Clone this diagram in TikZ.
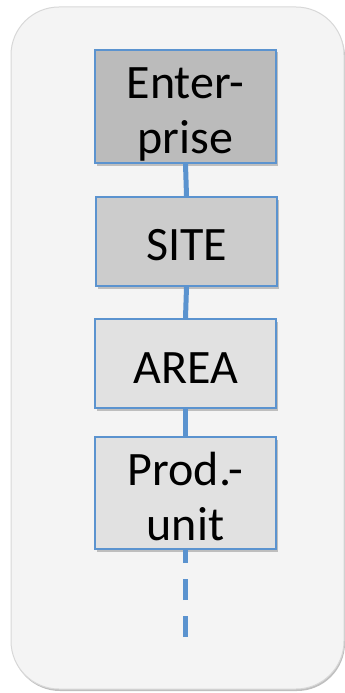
\documentclass[tikz,border=0pt]{standalone}
\usepackage{fontspec}
\setmainfont{Carlito}
\usetikzlibrary{shadows}
\definecolor{panelbg}{HTML}{F4F4F4}
\definecolor{panelrim}{HTML}{D8D8D8}
\definecolor{linkblue}{HTML}{5B93CF}
\definecolor{lvlA}{HTML}{BBBBBB}
\definecolor{lvlB}{HTML}{CCCCCC}
\definecolor{lvlC}{HTML}{E1E1E1}
\tikzset{
  level/.style={draw=linkblue, line width=2pt, minimum width=181pt,
    inner sep=0pt,
    drop shadow={shadow xshift=1.5pt, shadow yshift=-2.5pt, opacity=0.22, fill=black}},
  caption/.style={align=center, inner sep=0pt,
    font=\fontsize{48}{55}\selectfont},
  link/.style={draw=linkblue, line width=5pt},
}
\begin{document}
\begin{tikzpicture}[x=1pt,y=-1pt]
  \useasboundingbox (0,0) rectangle (345,693);
  % panel
  \draw[draw=panelrim, line width=1pt, fill=panelbg, rounded corners=48pt,
        drop shadow={shadow xshift=1pt, shadow yshift=-2pt, opacity=0.25, fill=black}]
        (11,7) rectangle (344,689);
  % hierarchy levels
  \node[level, fill=lvlA, minimum height=113pt,
        label={[caption, yshift=-8pt]center:{Enter-\\prise}}] (ent) at (185.5,106.5) {};
  \node[level, fill=lvlB, minimum height=89pt,
        label={[caption, yshift=-3.5pt]center:SITE}] (site) at (186.5,241.5) {};
  \node[level, fill=lvlC, minimum height=89pt,
        label={[caption, yshift=-4.5pt]center:AREA}] (area) at (185.5,363.5) {};
  \node[level, fill=lvlC, minimum height=112pt,
        label={[caption, yshift=-3.5pt]center:{Prod.-\\unit}}] (prod) at (185.5,493) {};
  \coordinate (tail) at (185.5,637);
  % links
  \draw[link] (ent.south) -- (site.north);
  \draw[link] (site.south) -- (area.north);
  \draw[link] (area.south) -- (prod.north);
  \draw[link, dash pattern=on 21pt off 16pt] (tail) -- (prod.south);
\end{tikzpicture}
\end{document}
